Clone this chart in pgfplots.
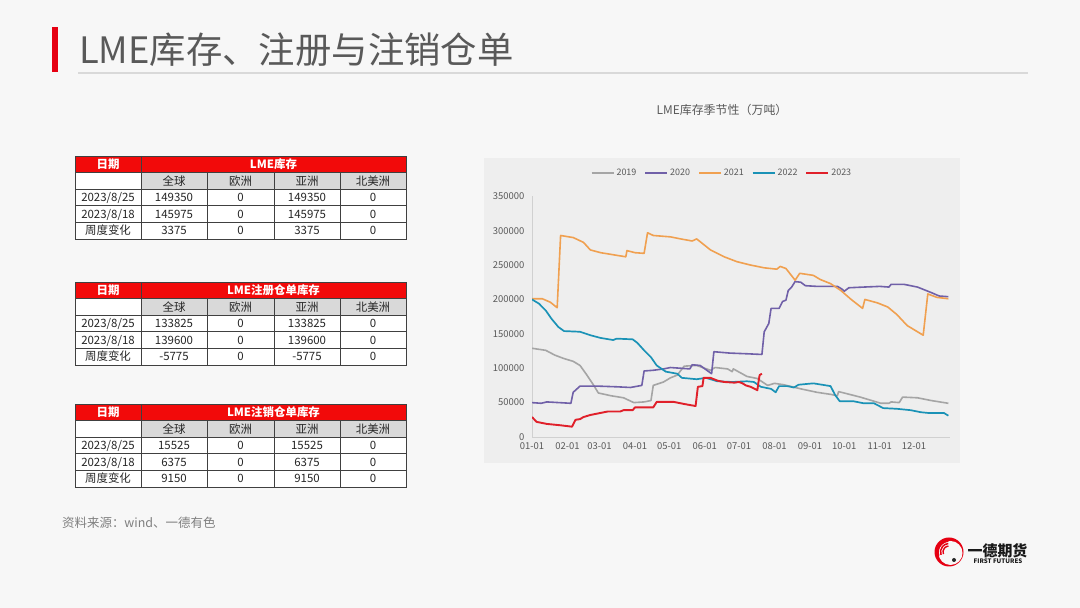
\documentclass[border=0pt]{standalone}
\usepackage{pgfplots}
\pgfplotsset{compat=1.18}
\usepackage{fontspec}
\setmainfont{Noto Sans CJK SC}
\definecolor{bgc}{HTML}{F7F7F7}
\definecolor{plotbg}{HTML}{EEEEEE}
\definecolor{titlegray}{HTML}{595959}
\definecolor{linegray}{HTML}{D9D9D9}
\definecolor{hdrred}{HTML}{F20A0A}
\definecolor{subgray}{HTML}{D9D9D9}
\definecolor{celltext}{HTML}{262626}
\definecolor{ticktext}{HTML}{595959}
\definecolor{axisgray}{HTML}{D0D0D0}
\definecolor{cA}{HTML}{A5A5A5}
\definecolor{cB}{HTML}{7060A8}
\definecolor{cC}{HTML}{F0A050}
\definecolor{cD}{HTML}{1A92B6}
\definecolor{cE}{HTML}{E0202A}
\definecolor{logored}{HTML}{E60012}
\definecolor{sourcegray}{HTML}{7F7F7F}

\tikzset{cell/.style={font=\fontsize{11.5}{12}\selectfont, text=celltext, inner sep=0pt, anchor=base},
         hcell/.style={font=\bfseries\fontsize{11.5}{12}\selectfont, text=white, inner sep=0pt, anchor=base},
         tblline/.style={draw=black!75, line width=0.6bp}}

\newcommand{\drawtable}[8]{%
 \pgfmathsetmacro{\ya}{#1}%
 \pgfmathsetmacro{\yb}{#1-16.6}%
 \pgfmathsetmacro{\yc}{#1-33.2}%
 \pgfmathsetmacro{\yd}{#1-49.8}%
 \pgfmathsetmacro{\ye}{#1-66.4}%
 \pgfmathsetmacro{\yf}{#1-83}%
 \pgfmathsetmacro{\ma}{#1-8.3-4.2}%
 \pgfmathsetmacro{\mb}{#1-24.9-4.2}%
 \pgfmathsetmacro{\mc}{#1-41.5-4.2}%
 \pgfmathsetmacro{\md}{#1-58.1-4.2}%
 \pgfmathsetmacro{\me}{#1-74.7-4.2}%
 \fill[white] (75,\yb) rectangle (406,\yf);
 \fill[hdrred] (75,\ya) rectangle (406,\yb);
 \fill[subgray] (141,\yb) rectangle (406,\yc);
 \draw[tblline] (75,\ya) rectangle (406,\yf);
 \foreach \yy in {\yb,\yc,\yd,\ye} {\draw[tblline] (75,\yy) -- (406,\yy);}
 \draw[tblline] (141,\ya) -- (141,\yf);
 \foreach \xx in {207,274,340} {\draw[tblline] (\xx,\yb) -- (\xx,\yf);}
 \node[hcell] at (108,\ma) {日期};
 \node[hcell] at (273.5,\ma) {#2};
 \node[cell] at (174,\mb) {全球};
 \node[cell] at (240.5,\mb) {欧洲};
 \node[cell] at (307,\mb) {亚洲};
 \node[cell] at (373,\mb) {北美洲};
 \node[cell] at (108,\mc) {2023/8/25};
 \node[cell] at (174,\mc) {#3};
 \node[cell] at (240.5,\mc) {0};
 \node[cell] at (307,\mc) {#4};
 \node[cell] at (373,\mc) {0};
 \node[cell] at (108,\md) {2023/8/18};
 \node[cell] at (174,\md) {#5};
 \node[cell] at (240.5,\md) {0};
 \node[cell] at (307,\md) {#6};
 \node[cell] at (373,\md) {0};
 \node[cell] at (108,\me) {周度变化};
 \node[cell] at (174,\me) {#7};
 \node[cell] at (240.5,\me) {0};
 \node[cell] at (307,\me) {#8};
 \node[cell] at (373,\me) {0};
}

\begin{document}
\begin{tikzpicture}[x=1bp,y=1bp]
\fill[bgc] (0,0) rectangle (1080,608);
% title
\fill[logored] (52,536) rectangle (58,581);
\draw[linegray, line width=1.6bp] (78,535) -- (1028,535);
\node[anchor=west, font=\fontsize{36.5}{38}\selectfont, text=titlegray, inner sep=0pt] at (79,558) {LME库存、注册与注销仓单};
% tables
\drawtable{452}{LME库存}{149350}{149350}{145975}{145975}{3375}{3375}
\drawtable{326}{LME注册仓单库存}{133825}{133825}{139600}{139600}{-5775}{-5775}
\drawtable{204}{LME注销仓单库存}{15525}{15525}{6375}{6375}{9150}{9150}
% source
\node[anchor=west, font=\fontsize{12.5}{13}\selectfont, text=sourcegray, inner sep=0pt] at (62,85) {资料来源：wind、一德有色};
% chart title and box
\node[font=\fontsize{12}{13}\selectfont, text=titlegray, inner sep=0pt] at (722,498) {LME库存季节性（万吨）};
\fill[plotbg] (484,145) rectangle (960,450);
\begin{axis}[
  at={(532bp,171bp)}, anchor=south west,
  scale only axis, width=417.5bp, height=240.7bp,
  xmin=0, xmax=365, ymin=0, ymax=350000,
  axis x line*=bottom, axis y line*=left,
  axis line style={draw=axisgray, line width=0.6bp},
  xtick={0,31,59,90,120,151,181,212,243,273,304,334},
  xticklabels={01-01,02-01,03-01,04-01,05-01,06-01,07-01,08-01,09-01,10-01,11-01,12-01},
  ytick={0,50000,100000,150000,200000,250000,300000,350000},
  yticklabels={0,50000,100000,150000,200000,250000,300000,350000},
  scaled y ticks=false,
  major tick length=0pt,
  /pgf/number format/assume math mode=true,
  tick label style={font=\fontsize{9.5}{10}\selectfont, text=ticktext},
  yticklabel style={xshift=-4bp},
  xticklabel style={yshift=-2bp},
  legend style={at={(0.455,1.096)}, anchor=center, legend columns=5, draw=none, fill=none,
     font=\fontsize{9}{10}\selectfont, text=ticktext,
     /tikz/every even column/.append style={column sep=6bp}},
  legend image code/.code={\draw[#1, line width=1.8bp] (0bp,0bp) -- (22bp,0bp);},
  every axis plot/.append style={line join=round, mark=none},
]
\addplot[cA, line width=1.6bp] coordinates {(0,129000)(12,126000)(20,119000)(28,114000)(36,110000)(42,104000)(48,90000)(54,75000)(58,64000)(69,60000)(80,57000)(89,50000)(98,51000)(104,53000)(106,75000)(115,80000)(121,86000)(127,90000)(133,103000)(144,104000)(156,97000)(160,101000)(171,99000)(175,95000)(176,99000)(188,88000)(197,85000)(206,75000)(212,78000)(220,76000)(235,70000)(249,65000)(261,62000)(267,60000)(268,66000)(287,58000)(305,49000)(312,49000)(314,51000)(321,50000)(324,58000)(337,57000)(349,53000)(364,49000)};
\addplot[cB, line width=1.6bp] coordinates {(0,50000)(8,49000)(13,51000)(34,49000)(36,65000)(42,74000)(57,74000)(74,73000)(86,72000)(96,75000)(98,96000)(106,97000)(115,99000)(121,101000)(138,99000)(140,105000)(147,104000)(157,92000)(159,124000)(173,122000)(188,121000)(201,120000)(203,153000)(207,165000)(209,187000)(216,187000)(219,197000)(222,199000)(224,213000)(227,218000)(230,226000)(235,225000)(239,220000)(249,219000)(267,219000)(271,215000)(273,212000)(277,217000)(290,218000)(304,219000)(312,218000)(314,222000)(325,222000)(337,218000)(349,210000)(356,205000)(364,204000)};
\addplot[cC, line width=1.6bp] coordinates {(0,201000)(9,201000)(16,196000)(22,188000)(25,293000)(36,290000)(45,283000)(51,272000)(60,268000)(71,265000)(82,262000)(83,271000)(90,268000)(98,267000)(101,297000)(106,293000)(121,291000)(130,288000)(140,285000)(144,288000)(156,272000)(168,262000)(179,255000)(191,250000)(203,246000)(214,244000)(217,248000)(222,245000)(230,228000)(234,238000)(246,235000)(252,229000)(261,223000)(270,213000)(279,200000)(289,187000)(291,200000)(302,195000)(311,189000)(319,178000)(328,162000)(337,153000)(342,148000)(346,208000)(354,203000)(364,201000)};
\addplot[cD, line width=1.7bp] coordinates {(0,200000)(6,194000)(12,184000)(17,172000)(23,160000)(28,154000)(42,153000)(51,148000)(60,144000)(71,141000)(74,143000)(88,142000)(92,137000)(98,126000)(104,116000)(109,104000)(117,95000)(127,92000)(131,86000)(144,84000)(152,86000)(162,81000)(175,80000)(188,81000)(194,80000)(200,73000)(209,70000)(213,65000)(216,74000)(223,74000)(229,72000)(233,76000)(246,78000)(261,74000)(265,61000)(269,52000)(281,52000)(290,49000)(299,49000)(307,42000)(319,41000)(331,39000)(340,36000)(346,35000)(360,35000)(364,31000)};
\addplot[cE, line width=1.9bp] coordinates {(0,29000)(4,22000)(13,19000)(25,17000)(35,15000)(38,25000)(42,26000)(45,29000)(51,32000)(60,35000)(66,37000)(77,37000)(80,39000)(88,39000)(90,43000)(106,43000)(109,51000)(124,51000)(133,48000)(143,45000)(145,73000)(149,74000)(150,86000)(156,86000)(162,82000)(168,80000)(177,79000)(181,80000)(184,78000)(187,75000)(191,73000)(197,68000)(198,80000)(199,90000)(201,92000)};
\legend{2019,2020,2021,2022,2023}
\end{axis}
% logo
\fill[logored] (949,56) circle (14.5);
\fill[bgc] (950.5,55) circle (12);
\foreach \r/\w in {11/1.6,8.5/1.5,6/1.4} {\draw[logored, line width=\w bp] (949,56) ++(200:\r) arc (200:95:\r);}
\fill[black!85] (954,48) circle (2);
\node[font=\bfseries\fontsize{15}{15}\selectfont, text=black!90, inner sep=0pt] at (997.5,57) {一德期货};
\node[font=\bfseries\fontsize{6.2}{7}\selectfont, text=black!90, inner sep=0pt] at (998,46.5) {FIRST FUTURES};
\end{tikzpicture}
\end{document}
